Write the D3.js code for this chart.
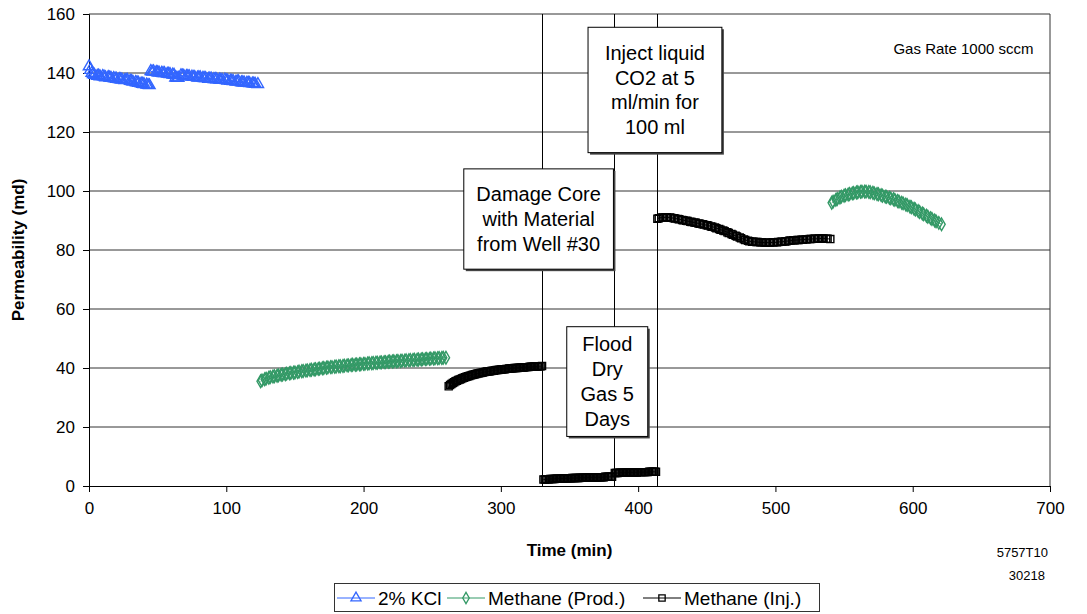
<!DOCTYPE html>
<html>
<head>
<meta charset="utf-8">
<script src="https://cdn.jsdelivr.net/npm/d3@7"></script>
<style>
  body { margin: 0; background: #fff; }
  text { font-family: "Liberation Sans", Arial, sans-serif; }
</style>
</head>
<body>
<svg id="chart" width="1087" height="614"></svg>
<script>
// [time (min), permeability (md)]
const kcl = [
  [[0,142.2],[1,141.0],[2,140.0],[3,139.6],[4,139.3],[6,139.0],[7,139.1],[8,138.8],[10,138.9],[11,138.7],[12,138.5],[14,138.6],[15,138.4],[16,138.3],[18,138.2],[19,138.1],[20,138.0],[22,137.9],[23,137.8],[24,137.7],[26,137.5],[27,137.6],[28,137.6],[30,137.3],[31,137.2],[32,137.0],[34,136.9],[35,136.8],[36,136.6],[38,136.4],[39,136.3],[40,136.2],[42,136.0],[43,135.9],[44,135.8]],
  [[45,140.6],[46,140.4],[47,140.5],[49,140.3],[50,140.2],[51,140.1],[53,140.0],[54,139.9],[55,139.9],[57,139.7],[58,139.7],[59,139.6],[61,139.4],[62,139.3],[63,138.4],[64,138.3],[65,138.3],[67,139.2],[68,139.1],[69,139.0],[71,138.9],[72,138.9],[73,138.8],[75,138.7],[76,138.6],[77,138.6],[79,138.4],[80,138.5],[81,138.5],[83,138.3],[84,138.2],[85,138.2],[87,138.0],[88,138.1],[89,138.1],[91,137.9],[92,137.9],[93,137.8],[95,137.7],[96,137.6],[97,137.6],[99,137.7],[100,137.5],[101,137.4],[103,137.3],[104,137.3],[105,137.2],[107,137.0],[108,137.1],[109,137.1],[111,136.8],[112,136.8],[113,136.7],[115,136.6],[116,136.6],[117,136.5],[119,136.4],[120,136.4],[121,136.3],[123,136.2]]
];

const methaneProd = [
  [[125,35.5],[126,35.8],[128,36.2],[129,36.4],[131,36.7],[132,36.9],[134,37.1],[135,37.2],[137,37.4],[138,37.5],[140,37.7],[141,37.8],[143,37.9],[144,38.1],[146,38.2],[147,38.3],[149,38.4],[150,38.5],[152,38.6],[153,38.8],[155,38.9],[156,39.0],[158,39.1],[159,39.2],[161,39.3],[162,39.4],[164,39.5],[165,39.6],[167,39.7],[168,39.8],[170,39.9],[171,40.0],[173,40.1],[174,40.2],[176,40.3],[177,40.3],[179,40.4],[180,40.5],[182,40.6],[183,40.6],[185,40.7],[186,40.8],[188,40.9],[189,40.9],[191,41.0],[192,41.1],[194,41.1],[195,41.2],[197,41.3],[198,41.3],[200,41.4],[201,41.4],[203,41.5],[204,41.6],[206,41.6],[207,41.7],[209,41.8],[210,41.8],[212,41.9],[213,41.9],[215,42.0],[216,42.0],[218,42.1],[219,42.2],[221,42.2],[222,42.3],[224,42.3],[225,42.4],[227,42.4],[228,42.5],[230,42.5],[231,42.6],[233,42.6],[234,42.7],[236,42.7],[237,42.8],[239,42.8],[240,42.9],[242,42.9],[243,43.0],[245,43.0],[246,43.1],[248,43.1],[249,43.2],[251,43.2],[252,43.3],[254,43.3],[255,43.4],[257,43.4],[258,43.5],[260,43.5]],
  [[541,96.0],[542,96.4],[544,97.0],[545,97.3],[547,97.8],[548,98.1],[550,98.4],[551,98.6],[553,98.8],[554,99.0],[556,99.2],[557,99.3],[559,99.5],[560,99.6],[562,99.7],[563,99.8],[565,99.8],[566,99.8],[568,99.7],[569,99.6],[571,99.4],[572,99.2],[574,99.0],[575,98.9],[577,98.6],[578,98.4],[580,98.1],[581,98.0],[583,97.7],[584,97.5],[586,97.2],[587,97.0],[589,96.6],[590,96.4],[592,96.0],[593,95.8],[595,95.4],[596,95.2],[598,94.7],[599,94.5],[601,94.0],[602,93.7],[604,93.2],[605,92.9],[607,92.4],[608,92.1],[610,91.6],[611,91.3],[613,90.8],[614,90.5],[616,90.0],[617,89.7],[619,89.2],[621,88.7]]
];

const methaneInj = [
  [[262,33.8],[263,34.2],[264,34.6],[265,34.9],[266,35.2],[267,35.5],[268,35.7],[269,35.9],[270,36.1],[271,36.3],[272,36.5],[273,36.7],[274,36.9],[275,37.0],[276,37.2],[277,37.3],[278,37.5],[279,37.6],[280,37.7],[281,37.9],[282,38.0],[283,38.1],[284,38.2],[285,38.3],[286,38.4],[287,38.5],[288,38.6],[289,38.7],[290,38.8],[291,38.8],[292,38.9],[293,39.0],[294,39.1],[295,39.1],[296,39.2],[297,39.3],[298,39.3],[299,39.4],[300,39.5],[301,39.5],[302,39.6],[303,39.6],[304,39.7],[305,39.7],[306,39.8],[307,39.8],[308,39.9],[309,39.9],[310,40.0],[311,40.0],[312,40.0],[313,40.1],[314,40.1],[315,40.2],[316,40.2],[317,40.2],[318,40.3],[319,40.3],[320,40.3],[321,40.4],[322,40.4],[323,40.4],[324,40.5],[325,40.5],[326,40.5],[327,40.6],[328,40.6],[329,40.6],[330,40.7]],
  [[331,2.2],[332,2.2],[333,2.3],[334,2.3],[335,2.3],[336,2.4],[337,2.4],[338,2.4],[339,2.4],[340,2.5],[341,2.5],[342,2.5],[343,2.5],[344,2.5],[345,2.5],[346,2.6],[347,2.6],[348,2.6],[349,2.6],[350,2.6],[351,2.6],[352,2.7],[353,2.7],[354,2.7],[355,2.7],[356,2.7],[357,2.7],[358,2.8],[359,2.8],[360,2.8],[361,2.8],[362,2.8],[363,2.8],[364,2.9],[365,2.9],[366,2.9],[367,2.9],[368,2.9],[369,2.9],[370,3.0],[371,3.0],[372,3.0],[373,3.0],[374,3.0],[375,3.0],[376,3.1],[377,3.1],[378,3.1],[379,3.1],[380,3.1],[381,3.1]],
  [[383,4.4],[384,4.4],[385,4.4],[386,4.5],[387,4.5],[388,4.5],[389,4.5],[390,4.5],[391,4.5],[392,4.6],[393,4.6],[394,4.6],[395,4.6],[396,4.6],[397,4.6],[398,4.6],[399,4.6],[400,4.7],[401,4.7],[402,4.7],[403,4.7],[404,4.7],[405,4.7],[406,4.7],[407,4.7],[408,4.8],[409,4.8],[410,4.8],[411,4.8],[412,4.8],[413,4.8]],
  [[414,90.6],[415,90.8],[417,91.0],[418,91.0],[420,91.1],[421,91.1],[423,91.0],[424,90.9],[426,90.8],[427,90.7],[429,90.5],[430,90.4],[432,90.2],[433,90.1],[435,89.9],[436,89.8],[438,89.6],[439,89.5],[441,89.3],[442,89.2],[444,89.0],[445,88.9],[447,88.7],[448,88.6],[450,88.4],[451,88.3],[453,88.0],[454,87.9],[456,87.6],[457,87.4],[459,87.1],[460,86.9],[462,86.6],[463,86.4],[465,86.0],[466,85.8],[468,85.4],[469,85.2],[471,84.8],[472,84.6],[474,84.2],[475,84.0],[477,83.6],[478,83.4],[480,83.1],[481,83.0],[483,82.8],[484,82.8],[486,82.7],[487,82.7],[489,82.6],[490,82.6],[492,82.5],[493,82.5],[495,82.5],[496,82.5],[498,82.6],[499,82.6],[501,82.6],[502,82.7],[504,82.8],[505,82.8],[507,82.9],[508,83.0],[510,83.1],[511,83.2],[513,83.3],[514,83.3],[516,83.4],[517,83.4],[519,83.5],[520,83.5],[522,83.6],[523,83.6],[525,83.7],[526,83.7],[528,83.8],[529,83.8],[531,83.8],[532,83.9],[534,83.9],[535,83.9],[537,83.8],[538,83.8],[540,83.7]]
];

const xTicks = [0, 100, 200, 300, 400, 500, 600, 700];
const yTicks = [0, 20, 40, 60, 80, 100, 120, 140, 160];

// event markers (time, min)
const eventTimes = [330, 382.5, 413.5];

const notes = [
  { lines: ['Damage Core', 'with Material', 'from Well #30'], t0: 273, t1: 382, v0: 107.5, v1: 73.5 },
  { lines: ['Inject liquid', 'CO2 at 5', 'ml/min for', '100 ml'], t0: 363.5, t1: 461, v0: 155.5, v1: 113 },
  { lines: ['Flood', 'Dry', 'Gas 5', 'Days'], t0: 348, t1: 407, v0: 54, v1: 16.8 }
];

const seriesInfo = [
  { name: '2% KCl', data: kcl, color: '#3366ff', shape: d3.symbolTriangle, size: 56 },
  { name: 'Methane (Prod.)', data: methaneProd, color: '#339966', shape: d3.symbolDiamond, size: 46 },
  { name: 'Methane (Inj.)', data: methaneInj, color: '#000000', shape: d3.symbolSquare, size: 50 }
];

const svg = d3.select('#chart');
const margin = { top: 14, right: 37, bottom: 128, left: 89 };
const width = +svg.attr('width');
const height = +svg.attr('height');

const x = d3.scaleLinear()
  .domain([0, 700])
  .range([margin.left, width - margin.right]);

const y = d3.scaleLinear()
  .domain([0, 160])
  .range([height - margin.bottom, margin.top]);

// gridlines
svg.append('g')
  .selectAll('line')
  .data(yTicks.slice(1))
  .enter().append('line')
  .attr('x1', x(0)).attr('x2', x(700))
  .attr('y1', d => y(d)).attr('y2', d => y(d))
  .attr('stroke', '#333')
  .attr('stroke-width', 1);

// right border
svg.append('line')
  .attr('x1', x(700)).attr('x2', x(700))
  .attr('y1', y(160)).attr('y2', y(0))
  .attr('stroke', '#333');

// event lines
svg.append('g')
  .selectAll('line')
  .data(eventTimes)
  .enter().append('line')
  .attr('x1', d => Math.round(x(d)) + 0.5).attr('x2', d => Math.round(x(d)) + 0.5)
  .attr('y1', y(160)).attr('y2', y(0))
  .attr('stroke', '#000')
  .attr('stroke-width', 1);

// axes
const xAxis = svg.append('g')
  .attr('transform', `translate(0,${y(0)})`)
  .call(d3.axisBottom(x).tickValues(xTicks).tickSize(6).tickPadding(10));

const yAxis = svg.append('g')
  .attr('transform', `translate(${x(0)},0)`)
  .call(d3.axisLeft(y).tickValues(yTicks).tickSize(6).tickPadding(8));

[xAxis, yAxis].forEach(a => {
  a.select('.domain').attr('stroke', '#000');
  a.selectAll('.tick line').attr('stroke', '#000');
  a.selectAll('.tick text')
    .attr('font-size', 17)
    .attr('fill', '#000')
    .style('font-family', '"Liberation Sans", Arial, sans-serif');
});

// series
const line = d3.line()
  .x(d => x(d[0]))
  .y(d => y(d[1]));

seriesInfo.forEach(s => {
  const g = svg.append('g');
  s.data.forEach(seg => {
    g.append('path')
      .datum(seg)
      .attr('fill', 'none')
      .attr('stroke', s.color)
      .attr('stroke-width', 1)
      .attr('d', line);
    g.selectAll(null)
      .data(seg)
      .enter().append('path')
      .attr('transform', d => `translate(${x(d[0])},${y(d[1])})`)
      .attr('d', d3.symbol().type(s.shape).size(s.size))
      .attr('fill', 'none')
      .attr('stroke', s.color)
      .attr('stroke-width', 1.4);
  });
});

// annotation boxes
notes.forEach(n => {
  const bx = x(n.t0), by = y(n.v0);
  const bw = x(n.t1) - x(n.t0), bh = y(n.v1) - y(n.v0);
  svg.append('rect')
    .attr('x', bx + 2).attr('y', by + 2)
    .attr('width', bw).attr('height', bh)
    .attr('fill', '#444');
  svg.append('rect')
    .attr('x', bx).attr('y', by)
    .attr('width', bw).attr('height', bh)
    .attr('fill', '#fff')
    .attr('stroke', '#000')
    .attr('stroke-width', 1);
  const lh = 24.8;
  const start = by + bh / 2 - (n.lines.length - 1) * lh / 2;
  n.lines.forEach((t, i) => {
    svg.append('text')
      .attr('x', bx + bw / 2)
      .attr('y', start + i * lh)
      .attr('dy', '0.35em')
      .attr('text-anchor', 'middle')
      .attr('font-size', 20)
      .text(t);
  });
});

svg.append('text')
  .attr('x', x(688))
  .attr('y', y(146.3))
  .attr('text-anchor', 'end')
  .attr('font-size', 15)
  .text('Gas Rate 1000 sccm');

// axis titles
svg.append('text')
  .attr('x', x(350))
  .attr('y', 556)
  .attr('text-anchor', 'middle')
  .attr('font-size', 17)
  .attr('font-weight', 'bold')
  .text('Time (min)');

svg.append('text')
  .attr('transform', `translate(24,${y(80)}) rotate(-90)`)
  .attr('text-anchor', 'middle')
  .attr('font-size', 17)
  .attr('font-weight', 'bold')
  .text('Permeability (md)');

// figure id
svg.append('text')
  .attr('x', 1048).attr('y', 557)
  .attr('text-anchor', 'end')
  .attr('font-size', 13)
  .text('5757T10');
svg.append('text')
  .attr('x', 1045).attr('y', 580)
  .attr('text-anchor', 'end')
  .attr('font-size', 13)
  .text('30218');

// legend
const legend = svg.append('g');
legend.append('rect')
  .attr('x', 334.5).attr('y', 583.5)
  .attr('width', 485).attr('height', 28)
  .attr('fill', '#fff')
  .attr('stroke', '#333');

const legendX = [337, 447, 643];
seriesInfo.forEach((s, i) => {
  const lx = legendX[i], ly = 598;
  legend.append('line')
    .attr('x1', lx).attr('x2', lx + 38)
    .attr('y1', ly).attr('y2', ly)
    .attr('stroke', s.color);
  legend.append('path')
    .attr('transform', `translate(${lx + 19},${ly})`)
    .attr('d', d3.symbol().type(s.shape).size(s.size * 0.8))
    .attr('fill', 'none')
    .attr('stroke', s.color)
    .attr('stroke-width', 1.3);
  legend.append('text')
    .attr('x', lx + 41).attr('y', ly)
    .attr('dy', '0.35em')
    .attr('font-size', 19)
    .text(s.name);
});
</script>
</body>
</html>
